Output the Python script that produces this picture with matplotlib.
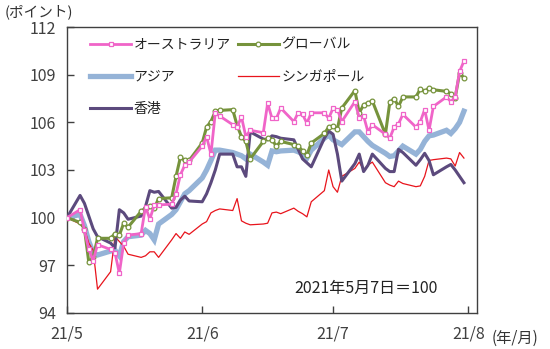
import matplotlib
matplotlib.use("Agg")
import matplotlib.pyplot as plt
import pandas as pd
import numpy as np

plt.rcParams['font.family'] = ['Noto Sans CJK JP', 'DejaVu Sans']

# business days, 2021/5/7 = 100
dates = pd.bdate_range('2021-05-07', '2021-08-06')

australia = [100.0, 100.5, 99.2, 98.0, 97.3, 98.3,
             98.0, 97.8, 96.5, 98.4, 98.9,
             99.0, 100.7, 99.9, 100.8, 100.8,
             100.85, 101.5, 102.7, 103.3, 103.5,
             104.5, 105.1, 104.0, 106.6, 106.4,
             105.85, 105.7, 106.35, 105.1, 105.5,
             105.35, 107.2, 106.25, 106.25, 106.9,
             106.05, 106.6, 106.5, 105.95, 106.6,
             106.6, 106.25, 106.9, 106.8, 106.05,
             107.3, 106.3, 106.4, 105.4, 105.85,
             105.25, 105.0, 105.7, 105.9, 106.5,
             105.7, 106.05, 106.8, 105.5, 107.0,
             107.6, 107.3, 107.6, 109.2, 109.85]

global_ = [100.0, 99.7, 99.3, 97.2, 97.5, 98.7,
           98.7, 99.0, 98.9, 99.65, 99.4,
           100.4, 100.6, 100.75, 100.6, 101.2,
           101.25, 102.6, 103.8, 103.6, 103.6,
           104.7, 105.7, 106.05, 106.7, 106.75,
           106.8, 105.8, 105.1, 104.8, 103.7,
           104.8, 105.0, 104.9, 104.5, 104.8,
           104.6, 104.5, 104.2, 103.95, 104.7,
           105.3, 105.7, 105.75, 105.6, 106.9,
           108.0, 106.6, 107.1, 107.2, 107.35,
           105.25, 107.25, 107.5, 107.0, 107.6,
           107.6, 108.1, 107.95, 108.15, 108.05,
           107.95, 107.8, 107.55, 109.1, 108.8]

asia = [100.0, 100.2, 99.5, 98.5, 97.8, 97.65,
        97.9, 97.95, 97.6, 98.5, 98.8,
        98.9, 99.2, 99.0, 98.6, 99.6,
        100.2, 100.5, 101.0, 101.5, 101.7,
        102.5, 103.0, 103.6, 104.25, 104.25,
        104.1, 104.0, 103.9, 103.7, 104.0,
        103.5, 103.3, 104.2, 104.15, 104.2,
        104.25, 104.15, 104.0, 103.75, 104.25,
        105.0, 105.2, 104.9, 104.75, 104.6,
        105.4, 105.4, 105.1, 104.8, 104.55,
        104.05, 103.85, 103.9, 104.2, 104.5,
        104.0, 104.3, 104.8, 105.15, 105.2,
        105.5, 105.3, 105.6, 106.0, 106.7]

singapore = [100.0, 99.6, 99.3, 98.4, 97.95, 95.5,
             96.6, 98.8, 98.5, 98.2, 97.7,
             97.5, 97.6, 97.85, 97.85, 97.5,
             98.6, 99.0, 98.7, 99.1, 98.95,
             99.6, 99.75, 100.3, 100.45, 100.55,
             100.45, 101.2, 99.8, 99.65, 99.55,
             99.6, 99.65, 100.3, 100.35, 100.25,
             100.6, 100.4, 100.25, 100.05, 101.0,
             101.7, 103.0, 101.95, 101.6, 102.6,
             103.1, 103.5, 103.0, 103.3, 103.5,
             102.2, 102.05, 101.95, 102.3, 102.15,
             101.95, 102.0, 102.6, 103.6, 103.65,
             103.75, 103.7, 103.25, 104.1, 103.75]

hongkong = [100.0, 101.4, 100.9, 100.1, 99.3, 98.8,
            98.4, 98.1, 100.5, 100.3, 99.9,
            100.1, 100.7, 101.7, 101.6, 101.65,
            100.6, 100.65, 101.1, 101.35, 101.05,
            101.0, 101.5, 102.2, 103.0, 104.0,
            104.0, 103.2, 103.2, 102.6, 105.4,
            104.95, 104.9, 105.15, 105.1, 105.0,
            104.9, 104.3, 103.7, 103.45, 103.2,
            105.0, 105.45, 105.25, 104.0, 102.3,
            103.4, 104.0, 102.9, 103.3, 104.0,
            103.1, 102.9, 102.9, 104.3, 104.1,
            103.3, 103.65, 104.05, 103.6, 102.7,
            103.2, 103.35, 103.0, 102.6, 102.2]

names = ['オーストラリア', 'グローバル', 'アジア', 'シンガポール', '香港']

tick_dates = pd.to_datetime(['2021-05-07', '2021-06-07', '2021-07-07', '2021-08-07'])
tick_labels = ['21/5', '21/6', '21/7', '21/8']

fig = plt.figure(figsize=(5.5, 3.49), dpi=100)
ax = fig.add_axes([0.1218, 0.1032, 0.7455, 0.8194])

l_asia, = ax.plot(dates, asia, color='#95B3D7', lw=3.8, solid_joinstyle='miter', zorder=2)
l_sg, = ax.plot(dates, singapore, color='#E8141C', lw=0.9, zorder=3)
l_hk, = ax.plot(dates, hongkong, color='#5C4A7D', lw=2.2, zorder=4)
l_gl, = ax.plot(dates, global_, color='#76933C', lw=2.2, marker='o', ms=3.4,
                mfc='white', mec='#76933C', mew=0.9, zorder=5)
l_au, = ax.plot(dates, australia, color='#F064C8', lw=2.0, marker='s', ms=3.2,
                mfc='white', mec='#F064C8', mew=0.9, zorder=6)

ax.set_ylim(94, 112)
ax.set_yticks(np.arange(94, 113, 3))
ax.set_xlim(dates[0], dates[0] + pd.Timedelta(days=94))
ax.set_xticks(tick_dates)
ax.set_xticklabels(tick_labels)
ax.tick_params(direction='in', length=5, width=1, colors='#404040',
               labelsize=11.5, labelcolor='#404040')
ax.tick_params(axis='x', pad=9)
ax.tick_params(axis='y', pad=8)
for s in ax.spines.values():
    s.set_color('#404040')
    s.set_linewidth(1)

leg = ax.legend([l_au, l_asia, l_hk, l_gl, l_sg],
                [names[0], names[2], names[4], names[1], names[3]],
                ncol=2, loc='upper left', bbox_to_anchor=(0.03, 1.0),
                frameon=False, fontsize=10, handlelength=3.0,
                handletextpad=0.15, labelspacing=1.3, columnspacing=0.5,
                borderaxespad=0.35)
for t in leg.get_texts():
    t.set_color('#222222')

ax.text(0.73, 0.087, '2021年5月7日＝100', transform=ax.transAxes,
        ha='center', va='center', fontsize=11.5, color='#222222')
fig.text(0.008, 0.965, '(ポイント)', ha='left', va='center', fontsize=10.5, color='#333333')
fig.text(0.893, 0.032, '(年/月)', ha='left', va='center', fontsize=11, color='#333333')

fig.savefig('out.png', dpi=100)
